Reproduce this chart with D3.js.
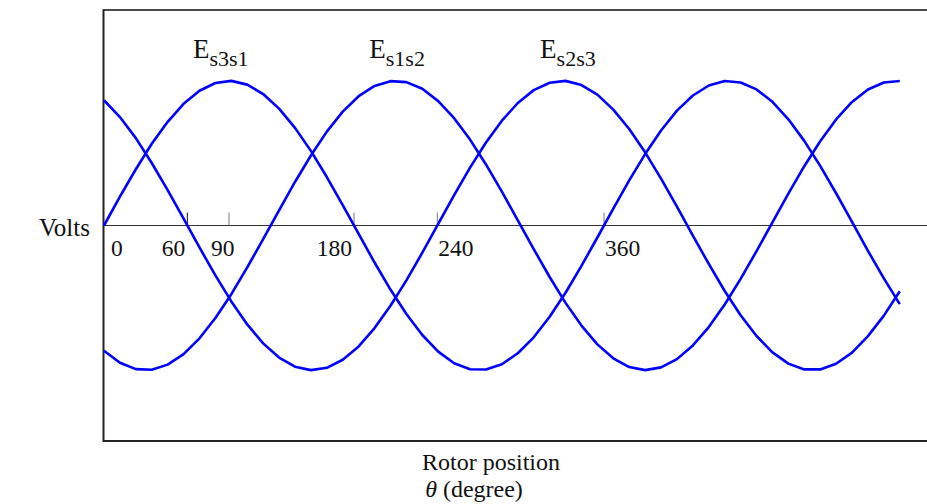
<!DOCTYPE html>
<html>
<head>
<meta charset="utf-8">
<script src="https://cdn.jsdelivr.net/npm/d3@7/dist/d3.min.js"></script>
<style>
  body { margin: 0; background: #fff; }
  text { font-family: "Liberation Serif", "Times New Roman", serif; fill: #111; }
</style>
</head>
<body>
<svg id="chart" width="927" height="504"></svg>
<script>
// Rotor position of each sample, degrees
const thetaDeg = [
  0.00, 11.46, 22.92, 34.38, 45.84, 57.30, 68.75, 80.21, 91.67, 103.13,
  114.59, 126.05, 137.51, 148.97, 160.43, 171.89, 183.35, 194.81, 206.26, 217.72,
  229.18, 240.64, 252.10, 263.56, 275.02, 286.48, 297.94, 309.40, 320.86, 332.32,
  343.77, 355.23, 366.69, 378.15, 389.61, 401.07, 412.53, 423.99, 435.45, 446.91,
  458.37, 469.83, 481.28, 492.74, 504.20, 515.66, 527.12, 538.58, 550.04, 561.50,
  572.96
];

// Line-to-line back-EMF, normalised volts
const eS3S1 = [
  0.000, 0.199, 0.389, 0.565, 0.717, 0.841, 0.932, 0.985, 1.000, 0.974,
  0.909, 0.808, 0.675, 0.516, 0.335, 0.141, -0.058, -0.256, -0.443, -0.612,
  -0.757, -0.872, -0.952, -0.994, -0.996, -0.959, -0.883, -0.773, -0.631, -0.465,
  -0.279, -0.083, 0.117, 0.312, 0.494, 0.657, 0.794, 0.899, 0.968, 0.999,
  0.989, 0.941, 0.855, 0.734, 0.585, 0.412, 0.223, 0.025, -0.175, -0.366,
  -0.544
];
const eS1S2 = [
  -0.866, -0.949, -0.993, -0.997, -0.962, -0.889, -0.780, -0.640, -0.475, -0.290,
  -0.094, 0.105, 0.301, 0.484, 0.649, 0.787, 0.894, 0.965, 0.998, 0.991,
  0.945, 0.860, 0.742, 0.594, 0.422, 0.234, 0.036, -0.163, -0.356, -0.535,
  -0.692, -0.822, -0.918, -0.979, -1.000, -0.981, -0.924, -0.829, -0.702, -0.546,
  -0.369, -0.177, 0.022, 0.221, 0.410, 0.583, 0.733, 0.854, 0.940, 0.989,
  0.999
];
const eS2S3 = [
  0.866, 0.750, 0.604, 0.432, 0.245, 0.048, -0.152, -0.345, -0.525, -0.684,
  -0.815, -0.913, -0.976, -1.000, -0.984, -0.928, -0.836, -0.709, -0.555, -0.379,
  -0.188, 0.012, 0.210, 0.400, 0.574, 0.725, 0.847, 0.936, 0.987, 1.000,
  0.971, 0.905, 0.801, 0.667, 0.506, 0.324, 0.130, -0.070, -0.266, -0.453,
  -0.620, -0.764, -0.877, -0.955, -0.995, -0.995, -0.956, -0.879, -0.765, -0.623,
  -0.455
];

const seriesNames = ["s3s1", "s1s2", "s2s3"];
const seriesLabelAngles = [64, 191, 314];

const tickAngles = [60, 90, 180, 240, 360];
const tickLabelAngles = [0, 60, 90, 180, 240, 360];
const tickLabels = ["0", "60", "90", "180", "240", "360"];

// label placement next to each tick mark
const tickLabelAnchor = ["start", "end", "start", "end", "start", "start"];
const tickLabelDx = [7, -2, -18, -2, 1, 1];

const svg = d3.select("#chart");
const W = 927;
const plot = { left: 104, top: 10, bottom: 441 };

const x = d3.scaleLinear().domain([0, 360]).range([plot.left, 604]);
const y = d3.scaleLinear().domain([-1.49, 1.49]).range([plot.bottom, plot.top]);

// frame: left edge, top edge and bottom edge running to the page edge
svg.append("line").attr("x1", plot.left - 0.5).attr("x2", W).attr("y1", plot.top).attr("y2", plot.top)
  .attr("stroke", "#111").attr("stroke-width", 1.4);
svg.append("line").attr("x1", plot.left - 0.5).attr("x2", W).attr("y1", plot.bottom).attr("y2", plot.bottom)
  .attr("stroke", "#222").attr("stroke-width", 2);
svg.append("line").attr("x1", plot.left - 0.5).attr("x2", plot.left - 0.5).attr("y1", plot.top - 0.7).attr("y2", plot.bottom + 1)
  .attr("stroke", "#222").attr("stroke-width", 2);

// zero-volt axis
svg.append("line").attr("x1", plot.left).attr("x2", W).attr("y1", y(0)).attr("y2", y(0))
  .attr("stroke", "#333").attr("stroke-width", 1);

// tick marks standing on the zero axis
svg.append("g").selectAll("line").data(tickAngles).join("line")
  .attr("x1", d => x(d)).attr("x2", d => x(d))
  .attr("y1", y(0)).attr("y2", y(0) - 13)
  .attr("stroke", (d, i) => i === 0 ? "#111" : "#777")
  .attr("stroke-width", 1);

svg.append("g").selectAll("text").data(tickLabelAngles).join("text")
  .attr("x", (d, i) => x(d) + tickLabelDx[i])
  .attr("y", y(0) + 30)
  .attr("text-anchor", (d, i) => tickLabelAnchor[i])
  .style("font-size", "23.5px")
  .text((d, i) => tickLabels[i]);

// waveforms
const line = d3.line().x((d, i) => x(thetaDeg[i])).y(d => y(d));
svg.append("g").selectAll("path").data([eS3S1, eS1S2, eS2S3]).join("path")
  .attr("d", line)
  .attr("fill", "none")
  .attr("stroke", "#0000ff")
  .attr("stroke-width", 2.6)
  .attr("stroke-linejoin", "round");

// series labels E with subscripts
const lbl = svg.append("g").selectAll("text").data(seriesNames).join("text")
  .attr("x", (d, i) => x(seriesLabelAngles[i]))
  .attr("y", 58)
  .style("font-size", "27px");
lbl.append("tspan").text("E");
lbl.append("tspan").attr("dy", 8).style("font-size", "22px").text(d => d);

// axis titles
svg.append("text").attr("x", 39).attr("y", 236).style("font-size", "25px").text("Volts");
svg.append("text").attr("x", 491).attr("y", 470).attr("text-anchor", "middle")
  .style("font-size", "24px").text("Rotor position");
const t2 = svg.append("text").attr("x", 474).attr("y", 497).attr("text-anchor", "middle").style("font-size", "24px");
t2.append("tspan").style("font-style", "italic").text("θ");
t2.append("tspan").text(" (degree)");
</script>
</body>
</html>
